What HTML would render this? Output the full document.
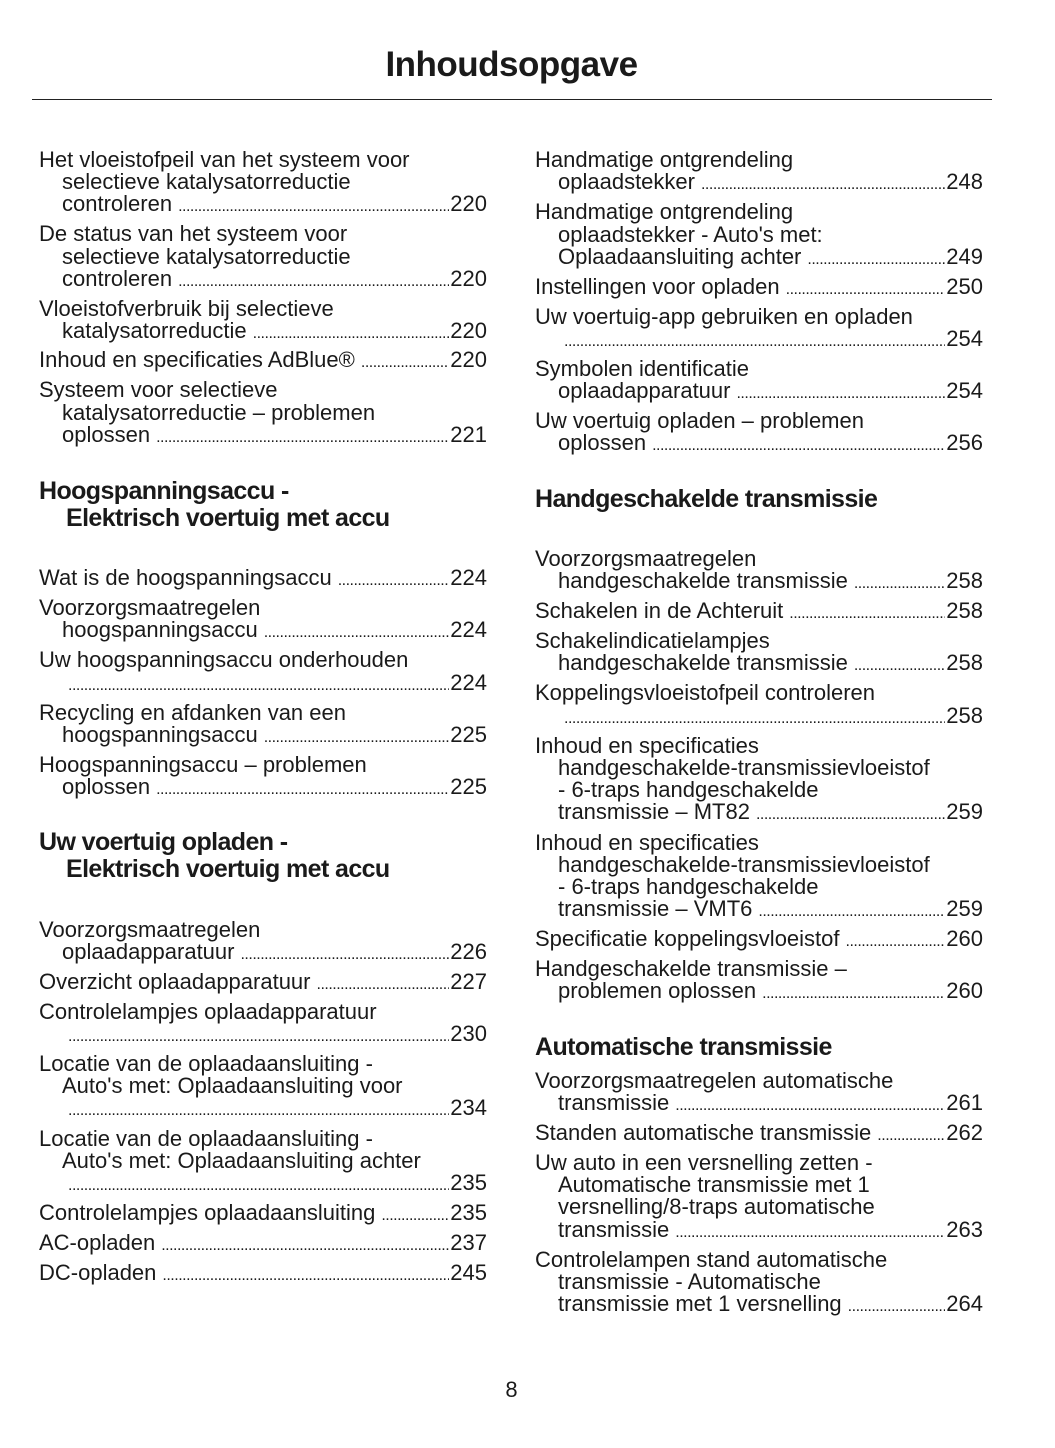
<!DOCTYPE html>
<html><head><meta charset="utf-8"><style>
body{margin:0;width:1055px;height:1448px;background:#fff;position:relative;font-family:"Liberation Sans",sans-serif;color:#1a1a1a;overflow:hidden}
.t{position:absolute;font-size:22px;line-height:24px;height:24px;white-space:nowrap}
.d{display:flex;align-items:baseline}
.d .f{flex:1;overflow:hidden;white-space:nowrap;font-size:16px;letter-spacing:-0.5px;margin:0 1px 0 6px}
.h{position:absolute;font-size:25px;font-weight:900;white-space:nowrap;line-height:28px;letter-spacing:-0.6px}
</style></head><body>
<div style="position:absolute;left:0;width:1023px;top:45px;text-align:center;font-size:35px;font-weight:900;letter-spacing:-0.5px">Inhoudsopgave</div>
<div style="position:absolute;left:32px;top:99px;width:960px;height:1px;background:#222"></div>
<div id="c"></div>
<div style="position:absolute;left:0;width:1023px;top:1377px;text-align:center;font-size:22px">8</div>
<script>
const D='.'.repeat(200);
const L=[
[160,39,"Het vloeistofpeil van het systeem voor"],[182,62,"selectieve katalysatorreductie"],[204,62,"controleren","220"],
[234,39,"De status van het systeem voor"],[257,62,"selectieve katalysatorreductie"],[279,62,"controleren","220"],
[309,39,"Vloeistofverbruik bij selectieve"],[331,62,"katalysatorreductie","220"],
[360,39,"Inhoud en specificaties AdBlue®","220"],
[390,39,"Systeem voor selectieve"],[413,62,"katalysatorreductie – problemen"],[435,62,"oplossen","221"],
[578,39,"Wat is de hoogspanningsaccu","224"],
[608,39,"Voorzorgsmaatregelen"],[630,62,"hoogspanningsaccu","224"],
[660,39,"Uw hoogspanningsaccu onderhouden"],[683,62,"","224"],
[713,39,"Recycling en afdanken van een"],[735,62,"hoogspanningsaccu","225"],
[765,39,"Hoogspanningsaccu – problemen"],[787,62,"oplossen","225"],
[930,39,"Voorzorgsmaatregelen"],[952,62,"oplaadapparatuur","226"],
[982,39,"Overzicht oplaadapparatuur","227"],
[1012,39,"Controlelampjes oplaadapparatuur"],[1034,62,"","230"],
[1064,39,"Locatie van de oplaadaansluiting -"],[1086,62,"Auto's met: Oplaadaansluiting voor"],[1108,62,"","234"],
[1139,39,"Locatie van de oplaadaansluiting -"],[1161,62,"Auto's met: Oplaadaansluiting achter"],[1183,62,"","235"],
[1213,39,"Controlelampjes oplaadaansluiting","235"],
[1243,39,"AC-opladen","237"],[1273,39,"DC-opladen","245"],
[160,535,"Handmatige ontgrendeling"],[182,558,"oplaadstekker","248"],
[212,535,"Handmatige ontgrendeling"],[235,558,"oplaadstekker - Auto's met:"],[257,558,"Oplaadaansluiting achter","249"],
[287,535,"Instellingen voor opladen","250"],
[317,535,"Uw voertuig-app gebruiken en opladen"],[339,558,"","254"],
[369,535,"Symbolen identificatie"],[391,558,"oplaadapparatuur","254"],
[421,535,"Uw voertuig opladen – problemen"],[443,558,"oplossen","256"],
[559,535,"Voorzorgsmaatregelen"],[581,558,"handgeschakelde transmissie","258"],
[611,535,"Schakelen in de Achteruit","258"],
[641,535,"Schakelindicatielampjes"],[663,558,"handgeschakelde transmissie","258"],
[693,535,"Koppelingsvloeistofpeil controleren"],[716,558,"","258"],
[746,535,"Inhoud en specificaties"],[768,558,"handgeschakelde-transmissievloeistof"],[790,558,"- 6-traps handgeschakelde"],[812,558,"transmissie – MT82","259"],
[843,535,"Inhoud en specificaties"],[865,558,"handgeschakelde-transmissievloeistof"],[887,558,"- 6-traps handgeschakelde"],[909,558,"transmissie – VMT6","259"],
[939,535,"Specificatie koppelingsvloeistof","260"],
[969,535,"Handgeschakelde transmissie –"],[991,558,"problemen oplossen","260"],
[1081,535,"Voorzorgsmaatregelen automatische"],[1103,558,"transmissie","261"],
[1133,535,"Standen automatische transmissie","262"],
[1163,535,"Uw auto in een versnelling zetten -"],[1185,558,"Automatische transmissie met 1"],[1207,558,"versnelling/8-traps automatische"],[1230,558,"transmissie","263"],
[1260,535,"Controlelampen stand automatische"],[1282,558,"transmissie - Automatische"],[1304,558,"transmissie met 1 versnelling","264"]
];
const H=[[491,39,"Hoogspanningsaccu -"],[518,66,"Elektrisch voertuig met accu"],[842,39,"Uw voertuig opladen -"],[869,66,"Elektrisch voertuig met accu"],[499,535,"Handgeschakelde transmissie"],[1047,535,"Automatische transmissie"]];
let h='';
for(const[y,x,s,p]of L){
 if(p){const r=x<500?487:983;h+=`<div class="t d" style="top:${y-12}px;left:${x}px;width:${r-x}px"><span>${s}</span><span class="f">${D}</span><span>${p}</span></div>`;}
 else h+=`<div class="t" style="top:${y-12}px;left:${x}px">${s}</div>`;
}
for(const[y,x,s]of H)h+=`<div class="h" style="top:${y-14}px;left:${x}px">${s}</div>`;
document.getElementById('c').innerHTML=h;
</script>
</body></html>
